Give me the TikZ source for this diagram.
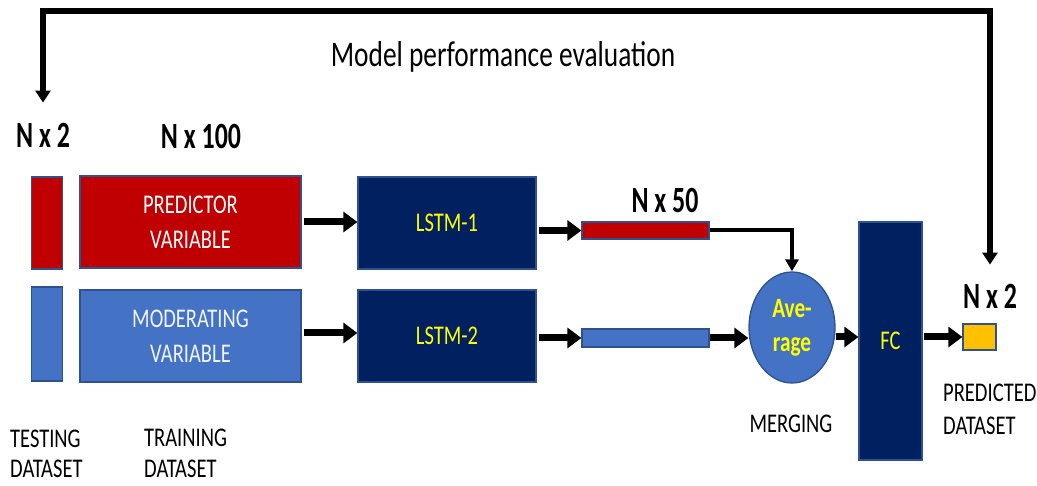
\documentclass[tikz,border=0pt]{standalone}
\usepackage{fontspec}
\setmainfont{Carlito}[FakeStretch=0.76]
\newfontfamily\cfb{Carlito}[FakeStretch=0.7]
\usetikzlibrary{arrows.meta,shapes.geometric,calc}
\definecolor{cred}{HTML}{C00000}
\definecolor{cblue}{HTML}{4472C4}
\definecolor{cnavy}{HTML}{002060}
\definecolor{cborder}{HTML}{2F528F}
\definecolor{cyel}{HTML}{FFFF00}
\definecolor{cgold}{HTML}{FFC000}
\tikzset{
  blk/.style={rectangle, draw=cborder, line width=1.3pt, inner sep=0pt, align=center},
  redblk/.style={blk, fill=cred, text=white, font=\fontsize{27}{35}\selectfont},
  blueblk/.style={blk, fill=cblue, text=white!92!cblue, font=\fontsize{27}{35}\selectfont},
  navyblk/.style={blk, fill=cnavy, text=cyel, font=\fontsize{27}{35}\selectfont},
  dimlbl/.style={inner sep=0pt, anchor=base, font=\cfb\bfseries\fontsize{37}{40}\selectfont},
  caption/.style={inner sep=0pt, anchor=base west, align=left, font=\fontsize{27}{31}\selectfont},
  fat/.style={line width=7pt, -{Triangle[length=14pt,width=20pt]}},
  thin/.style={line width=4pt, -{Triangle[length=12pt,width=13pt]}},
  loop/.style={line width=6pt, {Triangle[length=12pt,width=15pt]}-{Triangle[length=12pt,width=15pt]}},
}
\begin{document}
\begin{tikzpicture}[x=1pt,y=-1pt]
\useasboundingbox (0,0) rectangle (1037,486);
% title
\node[inner sep=0pt, anchor=base, font=\fontsize{36}{40}\selectfont] (title) at (503,67) {Model performance evaluation};
% dimension labels
\node[dimlbl] (nx2l) at (43,148) {N x 2};
\node[dimlbl] (nx100) at (201,149) {N x 100};
\node[dimlbl] (nx50) at (665,213) {N x 50};
\node[dimlbl] (nx2r) at (990,309) {N x 2};
% boxes
\node[blk, fill=cred, minimum width=31pt, minimum height=92pt] (test1) at (47,223) {};
\node[blk, fill=cblue, minimum width=31pt, minimum height=94pt] (test2) at (47,334) {};
\node[redblk, minimum width=221pt, minimum height=92pt] (pred) at (190.5,222) {PREDICTOR\\VARIABLE};
\node[blueblk, minimum width=221pt, minimum height=92pt] (mod) at (190.5,336) {MODERATING\\VARIABLE};
\node[navyblk, minimum width=178pt, minimum height=92pt] (lstm1) at (447,223) {LSTM-1};
\node[navyblk, minimum width=178pt, minimum height=92pt] (lstm2) at (447,336) {LSTM-2};
\node[blk, fill=cred, minimum width=127pt, minimum height=17pt] (bar1) at (645.5,230.5) {};
\node[blk, fill=cblue, minimum width=127pt, minimum height=18pt] (bar2) at (645.5,338) {};
\node[ellipse, draw=cborder, line width=1.3pt, fill=cblue, inner sep=0pt, minimum width=86pt, minimum height=111pt, text=cyel, align=center, font=\bfseries\fontsize{28}{34}\selectfont] (avg) at (792,327.5) {Ave-\\rage};
\node[navyblk, minimum width=63pt, minimum height=238pt] (fc) at (890.5,341) {FC};
\node[blk, fill=cgold, minimum width=33pt, minimum height=26pt] (out) at (979.5,337) {};
% captions (base anchor = last line)
\node[caption] (testcap) at (10,478) {TESTING\\DATASET};
\node[caption] (traincap) at (144,477) {TRAINING\\DATASET};
\node[inner sep=0pt, anchor=base, font=\fontsize{27}{31}\selectfont] (mergecap) at (791,433) {MERGING};
\node[caption, font=\fontsize{27}{33}\selectfont] (predcap) at (943,435) {PREDICTED\\DATASET};
% connectors
\draw[fat] ([xshift=2pt]pred.east) -- (lstm1.west |- pred.east);
\draw[fat] ([xshift=2pt]mod.east |- 0,333) -- (lstm2.west |- 0,333);
\draw[fat] ([xshift=2pt]lstm1.east |- bar1.west) -- (bar1.west);
\draw[fat] ([xshift=2pt]lstm2.east |- bar2.west) -- (bar2.west);
\draw[thin] (bar1.east) -| (avg.north);
\draw[fat] (bar2.east) -- (bar2.east -| avg.west);
\draw[fat] (avg.east |- out.west) -- (fc.west |- out.west);
\draw[fat] ([xshift=1pt]fc.east |- out.west) -- (out.west);
\coordinate (tl) at (43,11);
\coordinate (tr) at (990,11);
\draw[loop] ([yshift=21pt]nx2l.north) -- (tl) -- (tr) -- ([yshift=20pt]nx2r.north);
\end{tikzpicture}
\end{document}
